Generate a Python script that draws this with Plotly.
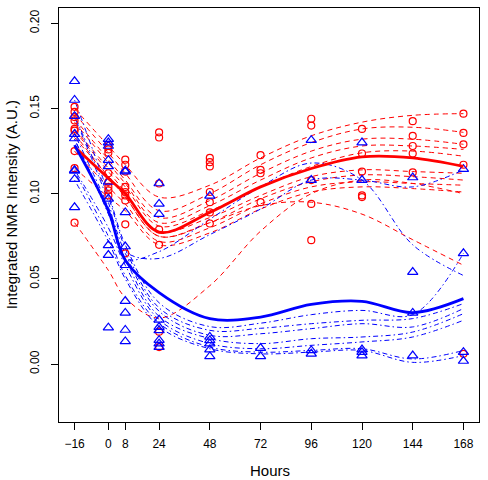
import plotly.graph_objects as go

hours = [-16, 0, 8, 24, 48, 72, 96, 120, 144, 168]
tick_labels = ["\u221216", "0", "8", "24", "48", "72", "96", "120", "144", "168"]

# Observed points (red circles)
red_hours = ([-16]*9 + [0]*8 + [8]*9 + [24]*7 + [48]*7 + [72]*4 + [96]*5 + [120]*5 + [144]*5 + [168]*5)
red_values = [0.151, 0.148, 0.145, 0.143, 0.138, 0.137, 0.125, 0.115, 0.083,
              0.128, 0.126, 0.124, 0.112, 0.107, 0.104, 0.102, 0.099,
              0.120, 0.117, 0.113, 0.104, 0.101, 0.099, 0.096, 0.082, 0.065,
              0.136, 0.133, 0.106, 0.079, 0.070, 0.019, 0.010,
              0.121, 0.1185, 0.116, 0.101, 0.095, 0.089, 0.0825,
              0.1226, 0.114, 0.112, 0.095,
              0.144, 0.140, 0.108, 0.094, 0.0727,
              0.138, 0.1236, 0.113, 0.099, 0.098,
              0.1426, 0.134, 0.128, 0.1236, 0.1125,
              0.147, 0.1357, 0.129, 0.117, 0.006]

# Observed points (blue triangles)
blue_hours = ([-16]*9 + [0]*10 + [8]*9 + [24]*9 + [48]*6 + [72]*2 + [96]*4 + [120]*5 + [144]*4 + [168]*4)
blue_values = [0.166, 0.155, 0.1455, 0.135, 0.1324, 0.1138, 0.1134, 0.1085, 0.092,
               0.132, 0.130, 0.128, 0.1197, 0.116, 0.107, 0.097, 0.0697, 0.064, 0.0214,
               0.1135, 0.113, 0.089, 0.069, 0.058, 0.037, 0.030, 0.020, 0.0133,
               0.106, 0.094, 0.088, 0.026, 0.0217, 0.0198, 0.014, 0.012, 0.010,
               0.0987, 0.0159, 0.0139, 0.012, 0.0085, 0.0045,
               0.0094, 0.0045,
               0.1314, 0.108, 0.008, 0.006,
               0.130, 0.108, 0.0085, 0.007, 0.005,
               0.1095, 0.054, 0.030, 0.005,
               0.1144, 0.065, 0.007, 0.0018]

# Individual fitted curves, values at each hour
red_curves = [
    [0.150, 0.128, 0.117, 0.098, 0.105, 0.121, 0.134, 0.142, 0.146, 0.147],
    [0.147, 0.124, 0.112, 0.090, 0.100, 0.117, 0.130, 0.138, 0.139, 0.136],
    [0.144, 0.120, 0.108, 0.086, 0.096, 0.112, 0.125, 0.132, 0.132, 0.129],
    [0.142, 0.118, 0.106, 0.083, 0.093, 0.108, 0.121, 0.128, 0.128, 0.126],
    [0.138, 0.115, 0.104, 0.081, 0.090, 0.104, 0.116, 0.124, 0.125, 0.122],
    [0.137, 0.113, 0.101, 0.078, 0.086, 0.099, 0.110, 0.114, 0.113, 0.112],
    [0.133, 0.110, 0.098, 0.075, 0.083, 0.097, 0.107, 0.111, 0.110, 0.108],
    [0.125, 0.104, 0.094, 0.072, 0.080, 0.094, 0.104, 0.107, 0.106, 0.105],
    [0.115, 0.098, 0.090, 0.070, 0.077, 0.091, 0.101, 0.104, 0.103, 0.101],
    [0.135, 0.110, 0.098, 0.075, 0.083, 0.093, 0.095, 0.088, 0.073, 0.058],
    [0.083, 0.055, 0.039, 0.027, 0.046, 0.078, 0.100, 0.108, 0.106, 0.100],
]
blue_curves = [
    [0.155, 0.100, 0.070, 0.036, 0.022, 0.024, 0.029, 0.0315, 0.029, 0.065],
    [0.146, 0.098, 0.068, 0.033, 0.0198, 0.021, 0.0237, 0.0257, 0.0267, 0.0355],
    [0.135, 0.092, 0.065, 0.031, 0.0169, 0.0178, 0.0208, 0.0237, 0.0218, 0.0326],
    [0.132, 0.088, 0.062, 0.028, 0.015, 0.012, 0.0149, 0.0159, 0.0188, 0.0296],
    [0.114, 0.080, 0.058, 0.026, 0.012, 0.009, 0.011, 0.013, 0.0159, 0.0257],
    [0.113, 0.075, 0.052, 0.024, 0.010, 0.007, 0.008, 0.009, 0.003, 0.008],
    [0.108, 0.072, 0.050, 0.022, 0.009, 0.006, 0.007, 0.008, 0.001, 0.005],
    [0.132, 0.090, 0.066, 0.062, 0.076, 0.091, 0.108, 0.108, 0.104, 0.114],
    [0.145, 0.095, 0.062, 0.066, 0.085, 0.104, 0.118, 0.108, 0.070, 0.052],
]
red_mean = [0.1275, 0.109, 0.100, 0.0775, 0.089, 0.104, 0.1148, 0.1216, 0.121, 0.116]
blue_mean = [0.1285, 0.090, 0.061, 0.042, 0.0267, 0.0276, 0.035, 0.0368, 0.0302, 0.0384]

RED = "#FF0000"
BLUE = "#0000FF"

fig = go.Figure()
for c in red_curves:
    fig.add_trace(go.Scatter(x=hours, y=c, mode="lines",
                             line=dict(color=RED, width=1, dash="5px,4px", shape="spline", smoothing=1.0),
                             hoverinfo="skip", showlegend=False))
for c in blue_curves:
    fig.add_trace(go.Scatter(x=hours, y=c, mode="lines",
                             line=dict(color=BLUE, width=1, dash="1.5px,3px,5px,3px", shape="spline", smoothing=1.0),
                             hoverinfo="skip", showlegend=False))
fig.add_trace(go.Scatter(x=red_hours, y=red_values, mode="markers",
                         marker=dict(symbol="circle-open", size=7, color=RED, line=dict(width=1.2, color=RED)),
                         showlegend=False))
fig.add_trace(go.Scatter(x=blue_hours, y=blue_values, mode="markers",
                         marker=dict(symbol="triangle-up-open", size=9, color=BLUE, line=dict(width=1.2, color=BLUE)),
                         showlegend=False))
fig.add_trace(go.Scatter(x=hours, y=red_mean, mode="lines",
                         line=dict(color=RED, width=2.8, shape="spline", smoothing=1.0),
                         showlegend=False))
fig.add_trace(go.Scatter(x=hours, y=blue_mean, mode="lines",
                         line=dict(color=BLUE, width=2.8, shape="spline", smoothing=1.0),
                         showlegend=False))

font = "Liberation Sans, Arial, Helvetica, sans-serif"
fig.update_layout(
    width=488, height=480,
    margin=dict(l=59, r=9, t=8, b=58, autoexpand=False),
    paper_bgcolor="white", plot_bgcolor="white",
    font=dict(family=font, size=12, color="black"),
    xaxis=dict(range=[-23.36, 175.36], tickvals=hours, ticktext=tick_labels,
               ticks="outside", ticklen=7, tickwidth=1, tickcolor="black",
               showline=True, linecolor="black", linewidth=1, mirror=True,
               showgrid=False, zeroline=False, ticklabelstandoff=4, automargin=False,
               tickfont=dict(size=12)),
    yaxis=dict(range=[-0.034, 0.209], tickvals=[0.0, 0.05, 0.10, 0.15, 0.20],
               ticktext=["0.00", "0.05", "0.10", "0.15", "0.20"],
               ticks="outside", ticklen=7, tickwidth=1, tickcolor="black",
               showline=True, linecolor="black", linewidth=1, mirror=True,
               showgrid=False, zeroline=False, tickangle=-90, ticklabelstandoff=7,
               automargin=False, tickfont=dict(size=12)),
    annotations=[
        dict(text="Hours", x=0.5, xref="paper", y=0, yref="paper", showarrow=False,
             font=dict(size=15)),
        dict(text="Integrated NMR Intensity (A.U.)", textangle=-90, x=0, xref="paper", y=0.5, yref="paper",
             showarrow=False, font=dict(size=15)),
    ],
)
plot_w = 488 - 59 - 9
plot_h = 480 - 8 - 58
fig.layout.annotations[0].update(x=(270 - 59) / plot_w, y=-(470 - 421.7) / plot_h, xanchor="center", yanchor="middle")
fig.layout.annotations[1].update(x=-(59 - 11) / plot_w, y=(421.7 - 205) / plot_h, xanchor="center", yanchor="middle")

fig.write_html("out.html", config={"displayModeBar": False},
               post_script="document.body.style.margin='0px';")
